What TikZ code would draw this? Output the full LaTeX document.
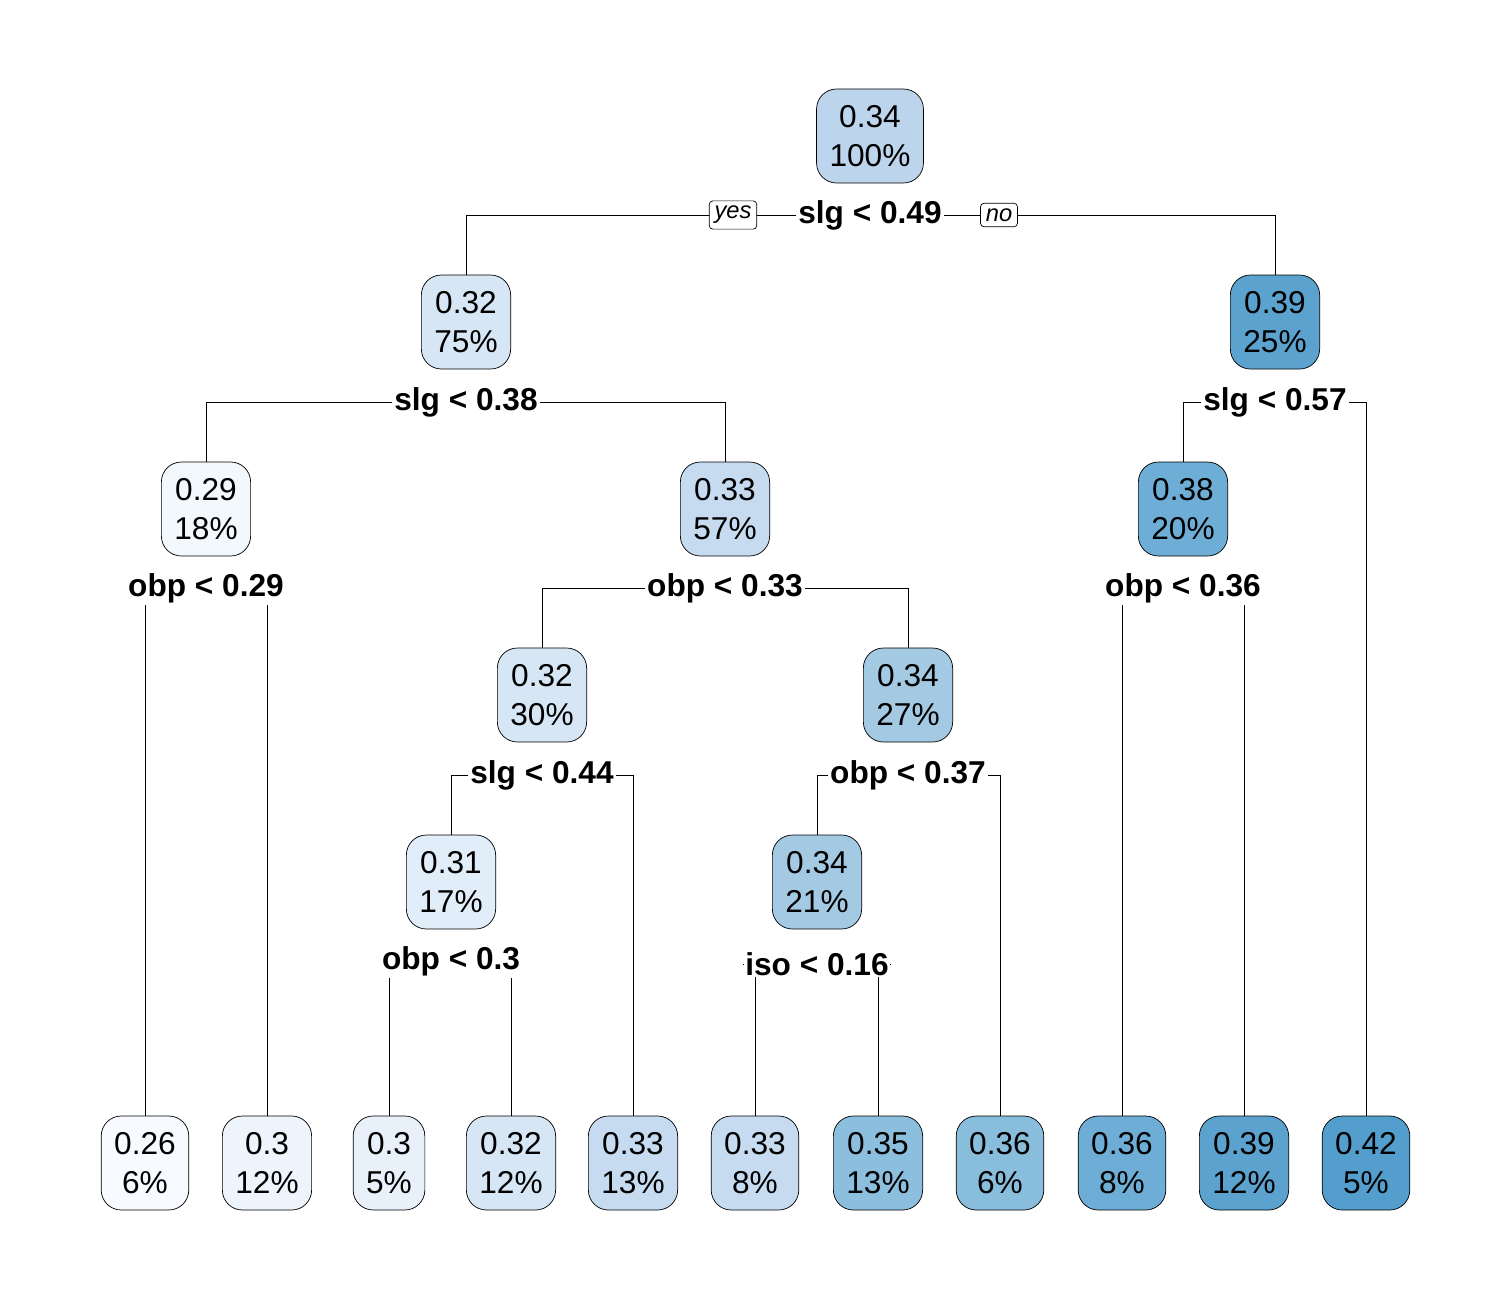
\documentclass[tikz,border=0pt]{standalone}
\usepackage{fontspec}
\setmainfont{Liberation Sans}
\usetikzlibrary{positioning, backgrounds}
\definecolor{c26}{HTML}{F7FBFF}
\definecolor{c29}{HTML}{F3F8FD}
\definecolor{c30}{HTML}{EDF4FB}
\definecolor{c30b}{HTML}{E8F1FA}
\definecolor{c31}{HTML}{E1EDF8}
\definecolor{c32}{HTML}{D6E6F4}
\definecolor{c33}{HTML}{C6DBEF}
\definecolor{c34}{HTML}{BDD5EC}
\definecolor{c34b}{HTML}{A3C9E3}
\definecolor{c35}{HTML}{8BBFDD}
\definecolor{c36}{HTML}{88BDDC}
\definecolor{c38}{HTML}{6EAED6}
\definecolor{c39}{HTML}{5CA2CF}
\definecolor{c42}{HTML}{539ECD}
\begin{document}
\begin{tikzpicture}[
		x=0.02cm, y=-0.02cm,
		tnode/.style={draw, rounded corners=0.4cm, align=center, inner xsep=0.26cm,
			minimum height=1.88cm, font=\fontsize{18}{22}\selectfont},
		split/.style={fill=white, inner sep=1pt, font=\bfseries\fontsize{18}{22}\selectfont},
		yn/.style={draw, fill=white, rounded corners=2pt, inner sep=3pt, font=\itshape\fontsize{13.5}{15}\selectfont},
	]
	\useasboundingbox (0,0) rectangle (1512,1296);

	% inner nodes
	\node[tnode, fill=c34] (root) at (870,136) {0.34\\100\%};
	\node[tnode, fill=c32] (n2) at (466,322) {0.32\\75\%};
	\node[tnode, fill=c39] (n3) at (1275,322) {0.39\\25\%};
	\node[tnode, fill=c29] (n4) at (206,509) {0.29\\18\%};
	\node[tnode, fill=c33] (n5) at (725,509) {0.33\\57\%};
	\node[tnode, fill=c38] (n6) at (1183,509) {0.38\\20\%};
	\node[tnode, fill=c32] (n7) at (542,695) {0.32\\30\%};
	\node[tnode, fill=c34b] (n8) at (908,695) {0.34\\27\%};
	\node[tnode, fill=c31] (n9) at (451,882) {0.31\\17\%};
	\node[tnode, fill=c34b] (n10) at (817,882) {0.34\\21\%};

	% leaves
	\node[tnode, fill=c26] (l1) at (145,1163) {0.26\\6\%};
	\node[tnode, fill=c30] (l2) at (267,1163) {0.3\\12\%};
	\node[tnode, fill=c30b] (l3) at (389,1163) {0.3\\5\%};
	\node[tnode, fill=c32] (l4) at (511,1163) {0.32\\12\%};
	\node[tnode, fill=c33] (l5) at (633,1163) {0.33\\13\%};
	\node[tnode, fill=c33] (l6) at (755,1163) {0.33\\8\%};
	\node[tnode, fill=c35] (l7) at (878,1163) {0.35\\13\%};
	\node[tnode, fill=c36] (l8) at (1000,1163) {0.36\\6\%};
	\node[tnode, fill=c38] (l9) at (1122,1163) {0.36\\8\%};
	\node[tnode, fill=c39] (l10) at (1244,1163) {0.39\\12\%};
	\node[tnode, fill=c42] (l11) at (1366,1163) {0.42\\5\%};

	% split labels
	\node[split] (s1) at (870,215) {slg < 0.49};
	\node[split] (s2) at (466,402) {slg < 0.38};
	\node[split] (s3) at (1275,402) {slg < 0.57};
	\node[split] (s4) at (206,588) {obp < 0.29};
	\node[split] (s5) at (725,588) {obp < 0.33};
	\node[split] (s6) at (1183,588) {obp < 0.36};
	\node[split] (s7) at (542,775) {slg < 0.44};
	\node[split] (s8) at (908,775) {obp < 0.37};
	\node[split] (s9) at (451,961) {obp < 0.3};
	\node[split] (s10) at (817,964) {iso < 0.16};

	\node[yn] (yes) at (733,215) {yes};
	\node[yn] (no) at (999,215) {no};

	\begin{scope}[on background layer]
		\draw (s1) -| (n2);
		\draw (s1) -| (n3);
		\draw (s2) -| (n4);
		\draw (s2) -| (n5);
		\draw (s3) -| (n6);
		\draw (s3) -| (l11);
		\draw (s4) -| (l1);
		\draw (s4) -| (l2);
		\draw (s5) -| (n7);
		\draw (s5) -| (n8);
		\draw (s6) -| (l9);
		\draw (s6) -| (l10);
		\draw (s7) -| (n9);
		\draw (s7) -| (l5);
		\draw (s8) -| (n10);
		\draw (s8) -| (l8);
		\draw (s9) -| (l3);
		\draw (s9) -| (l4);
		\draw (s10) -| (l6);
		\draw (s10) -| (l7);
	\end{scope}
\end{tikzpicture}
\end{document}
